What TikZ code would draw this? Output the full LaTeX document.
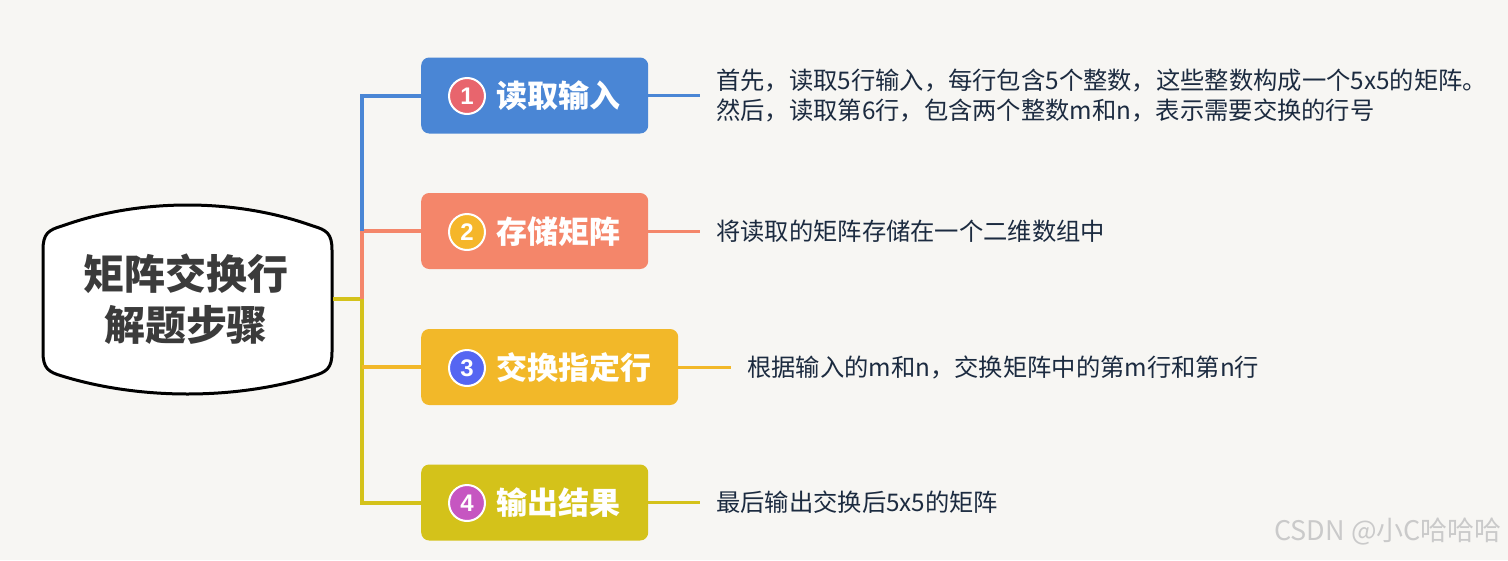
\documentclass[tikz,border=0pt]{standalone}
\usepackage{fontspec}
\setmainfont{Noto Sans CJK SC}
\newfontfamily\badgefont{Liberation Sans}
\newfontfamily\wmfont{Noto Sans CJK SC}
\definecolor{bgc}{HTML}{F7F6F3}
\definecolor{cblue}{HTML}{4A86D5}
\definecolor{corange}{HTML}{F4866A}
\definecolor{cyellow}{HTML}{F2B829}
\definecolor{colive}{HTML}{D4C21A}
\definecolor{bred}{HTML}{E8656D}
\definecolor{byellow}{HTML}{F5B62A}
\definecolor{bblue}{HTML}{5566F2}
\definecolor{bpurple}{HTML}{C656C1}
\definecolor{desc}{HTML}{1C2B40}
\definecolor{ctext}{HTML}{3B3B3B}
\definecolor{wm}{HTML}{CACACA}
\tikzset{
  stepbox/.style={rounded corners=8pt, minimum height=76pt, anchor=west, inner sep=0pt},
  badge/.style={circle, draw=white, line width=2pt, minimum size=36pt, inner sep=0pt,
    text=white, font=\badgefont\fontsize{24}{24}\selectfont\bfseries},
  lbl/.style={anchor=west, text=white, inner sep=0pt, font=\fontsize{31}{31}\selectfont\bfseries},
  desctext/.style={anchor=west, text=desc, inner sep=2pt, align=left, font=\fontsize{24.3}{30}\selectfont},
  conn/.style={line width=4pt},
  lead/.style={line width=3pt, shorten >=14pt}
}
\begin{document}
\begin{tikzpicture}[x=1pt,y=-1pt]
\useasboundingbox (0,0) rectangle (1508,560);
\fill[bgc] (0,0) rectangle (1508,560);

% central node
\draw[line width=3pt, fill=white]
  (43,250) -- (43,352)
  .. controls (43,368) and (48,372) .. (62,376)
  .. controls (140,400) and (235,400) .. (313,376)
  .. controls (327,372) and (332,368) .. (332,352)
  -- (332,250)
  .. controls (332,234) and (327,230) .. (313,226)
  .. controls (235,198) and (140,198) .. (62,226)
  .. controls (48,230) and (43,234) .. (43,250) -- cycle;
\node[text=ctext, align=center, font=\fontsize{41}{51}\selectfont\bfseries] (center) at (186,299) {矩阵交换行\\解题步骤};
\coordinate (cr) at (333,299);

% step boxes
\node[stepbox, fill=cblue, minimum width=227pt] (b1) at (421,95.5) {};
\node[stepbox, fill=corange, minimum width=227pt] (b2) at (421,231) {};
\node[stepbox, fill=cyellow, minimum width=257pt] (b3) at (421,367) {};
\node[stepbox, fill=colive, minimum width=227pt] (b4) at (421,502.5) {};

\node[badge, fill=bred] (n1) at (467,96) {1};
\node[badge, fill=byellow] (n2) at (467,232) {2};
\node[badge, fill=bblue] (n3) at (467,368) {3};
\node[badge, fill=bpurple] (n4) at (467,503) {4};

\node[lbl] (l1) at (496,96) {读取输入};
\node[lbl] (l2) at (496,232) {存储矩阵};
\node[lbl] (l3) at (496,368) {交换指定行};
\node[lbl] (l4) at (496,503) {输出结果};

% trunk coordinates
\coordinate (j2) at (362,231);
\coordinate (j0) at (362,299);
\coordinate (j4) at (362,502.5);

\draw[conn, colive] (cr) -- (j0);
\draw[conn, colive] (j0) -- (j4) -- (b4.west);
\draw[conn, cyellow] (j0 |- b3.west) -- (b3.west);
\draw[conn, corange] (j0) -- (j2) -- (b2.west);
\draw[conn, cblue] (j2) -- (j2 |- b1.west) -- (b1.west);

% descriptions
\node[desctext] (t1) at (714,95.5) {首先，读取5行输入，每行包含5个整数，这些整数构成一个5x5的矩阵。\\然后，读取第6行，包含两个整数m和n，表示需要交换的行号};
\node[desctext] (t2) at (714,231) {将读取的矩阵存储在一个二维数组中};
\node[desctext] (t3) at (745,367) {根据输入的m和n，交换矩阵中的第m行和第n行};
\node[desctext] (t4) at (714,502.5) {最后输出交换后5x5的矩阵};

\draw[lead, cblue] (b1.east) -- (t1.west);
\draw[lead, corange] (b2.east) -- (t2.west);
\draw[lead, cyellow] (b3.east) -- (t3.west);
\draw[lead, colive] (b4.east) -- (t4.west);

% watermark
\node[anchor=east, text=wm, inner sep=0pt, font=\wmfont\fontsize{27}{27}\selectfont] (wmk) at (1502,532) {CSDN @小C哈哈哈};
\end{tikzpicture}
\end{document}
